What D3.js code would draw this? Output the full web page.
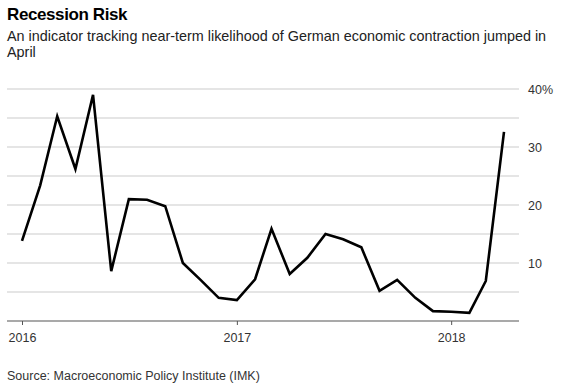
<!DOCTYPE html>
<html>
<head>
<meta charset="utf-8">
<script src="https://cdn.jsdelivr.net/npm/d3@7"></script>
<style>
  body { margin: 0; background: #fff; }
  text { font-family: "Liberation Sans", Arial, sans-serif; fill: #222; }
</style>
</head>
<body>
<svg id="chart" width="570" height="388"></svg>
<script>
// monthly readings, Jan 2016 - Apr 2018 (percent)
var months = ["2016-01","2016-02","2016-03","2016-04","2016-05","2016-06","2016-07","2016-08",
  "2016-09","2016-10","2016-11","2016-12","2017-01","2017-02","2017-03","2017-04","2017-05",
  "2017-06","2017-07","2017-08","2017-09","2017-10","2017-11","2017-12","2018-01","2018-02",
  "2018-03","2018-04"];
var risk = [13.8, 23.4, 35.3, 26.2, 39.0, 8.6, 21.0, 20.9, 19.8, 10.0, 7.0, 4.0, 3.6, 7.2,
  15.9, 8.1, 10.9, 15.0, 14.1, 12.7, 5.2, 7.1, 4.0, 1.7, 1.6, 1.4, 6.9, 32.6];
var gridValues = [5, 10, 15, 20, 25, 30, 35, 40];
var yLabels = [10, 20, 30, 40];
var yearTicks = ["2016", "2017", "2018"];

var parse = d3.timeParse("%Y-%m");
var data = months.map(function(m, i) { return { date: parse(m), value: risk[i] }; });

var svg = d3.select("#chart");

var x = d3.scaleTime()
  .domain([parse("2016-01"), parse("2018-04")])
  .range([22, 504]);
var y = d3.scaleLinear().domain([0, 40]).range([321, 89]);

// title
svg.append("text").attr("x", 7).attr("y", 20)
  .style("font-size", "17px").style("font-weight", "bold").style("letter-spacing", "-0.4px")
  .style("fill", "#000")
  .text("Recession Risk");
svg.append("text").attr("x", 7).attr("y", 41).style("font-size", "14.4px")
  .text("An indicator tracking near-term likelihood of German economic contraction jumped in");
svg.append("text").attr("x", 7).attr("y", 57).style("font-size", "14.4px").text("April");

// gridlines
svg.append("g").selectAll("line").data(gridValues).enter().append("line")
  .attr("x1", 7).attr("x2", 519)
  .attr("y1", function(d) { return y(d); })
  .attr("y2", function(d) { return y(d); })
  .style("stroke", "#dcdcdc").style("stroke-width", 1.5);

// y labels on the right
svg.append("g").selectAll("text").data(yLabels).enter().append("text")
  .attr("x", 528).attr("y", function(d) { return y(d) + 4.5; })
  .style("font-size", "12.5px").style("fill", "#333")
  .text(function(d) { return d === 40 ? d + "%" : d; });

// x axis
var xAxis = d3.axisBottom(x)
  .tickValues(yearTicks.map(function(t) { return d3.timeParse("%Y")(t); }))
  .tickFormat(d3.timeFormat("%Y"))
  .tickSize(4).tickSizeOuter(0);
var gx = svg.append("g").attr("transform", "translate(0," + y(0) + ")").call(xAxis);
gx.select(".domain").remove();
gx.insert("line", ":first-child").attr("x1", 7).attr("x2", 519)
  .style("stroke", "#555").style("stroke-width", 1.2);
gx.selectAll(".tick line").style("stroke", "#555");
gx.selectAll(".tick text").attr("dy", 0).attr("y", 21)
  .style("font-size", "12.5px").style("font-family", "'Liberation Sans', Arial, sans-serif")
  .style("fill", "#333");

// line
var line = d3.line()
  .x(function(d) { return x(d.date); })
  .y(function(d) { return y(d.value); });
svg.append("path").datum(data)
  .attr("d", line)
  .style("fill", "none").style("stroke", "#000")
  .style("stroke-width", 2.6).style("stroke-linejoin", "miter");

// source
svg.append("text").attr("x", 7).attr("y", 380).style("font-size", "12.5px").style("fill", "#333")
  .text("Source: Macroeconomic Policy Institute (IMK)");
</script>
</body>
</html>
